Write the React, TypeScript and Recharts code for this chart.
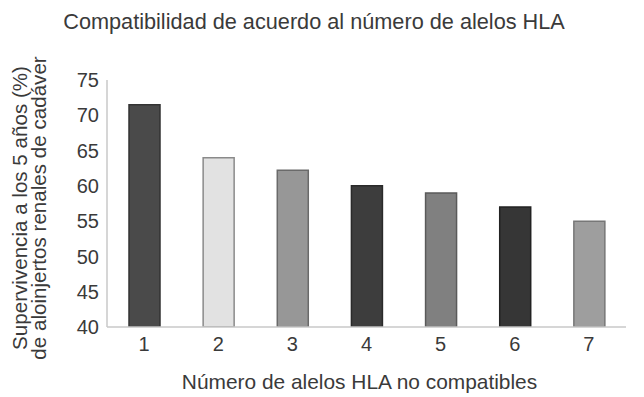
import React from "react";
import { BarChart, Bar, XAxis, YAxis, Cell } from "recharts";

const categories = ["1", "2", "3", "4", "5", "6", "7"];
const survival = [71.5, 64, 62.2, 60, 59, 57, 55];
const yTicks = [40, 45, 50, 55, 60, 65, 70, 75];
const fills = ["#4a4a4a", "#e2e2e2", "#979797", "#3d3d3d", "#808080", "#363636", "#9e9e9e"];
const strokes = ["#333333", "#8a8a8a", "#6a6a6a", "#2a2a2a", "#5a5a5a", "#222222", "#777777"];

const data = categories.map((c, i) => ({ name: c, value: survival[i] }));

const FONT = "'Liberation Sans', Arial, sans-serif";
const TXT = "#3a3a3a";

const YLabel = () => {
  const cy = 208;
  return (
    <g>
      <text x={19} y={cy} transform={`rotate(-90, 19, ${cy})`} textAnchor="middle" dominantBaseline="central" fill={TXT} fontSize={20.6} fontFamily={FONT}>
        Supervivencia a los 5 años (%)
      </text>
      <text x={38} y={cy} transform={`rotate(-90, 38, ${cy})`} textAnchor="middle" dominantBaseline="central" fill={TXT} fontSize={20.6} fontFamily={FONT}>
        de aloinjertos renales de cadáver
      </text>
    </g>
  );
};

export default function App() {
  return (
    <div style={{ position: "absolute", left: 0, top: 0, width: 644, height: 397, background: "#fff" }}>
      <div style={{ position: "absolute", left: 0, width: 628, top: 9, textAlign: "center", fontFamily: FONT, fontSize: 21.7, color: TXT, whiteSpace: "nowrap" }}>
        Compatibilidad de acuerdo al número de alelos HLA
      </div>
      <BarChart width={644} height={397} data={data} margin={{ top: 80, right: 18, left: 0, bottom: 0 }}>
        <XAxis
          dataKey="name"
          height={70}
          axisLine={{ stroke: "#c8c8c8", strokeWidth: 1.5 }}
          tickLine={false}
          tickMargin={4}
          tick={{ fill: TXT, fontSize: 20, fontFamily: FONT }}
          label={{ value: "Número de alelos HLA no compatibles", position: "insideBottom", offset: 8, fill: TXT, fontSize: 20.9, fontFamily: FONT, dx: -7 }}
        />
        <YAxis
          width={107}
          domain={[40, 75]}
          ticks={yTicks}
          axisLine={{ stroke: "#c8c8c8", strokeWidth: 1.5 }}
          tickLine={false}
          tickMargin={2}
          tick={{ fill: TXT, fontSize: 20, fontFamily: FONT }}
          label={<YLabel />}
          allowDataOverflow
        />
        <Bar dataKey="value" barSize={31} isAnimationActive={false} strokeWidth={1.5}>
          {data.map((d, i) => (
            <Cell key={d.name} fill={fills[i]} stroke={strokes[i]} />
          ))}
        </Bar>
      </BarChart>
    </div>
  );
}
